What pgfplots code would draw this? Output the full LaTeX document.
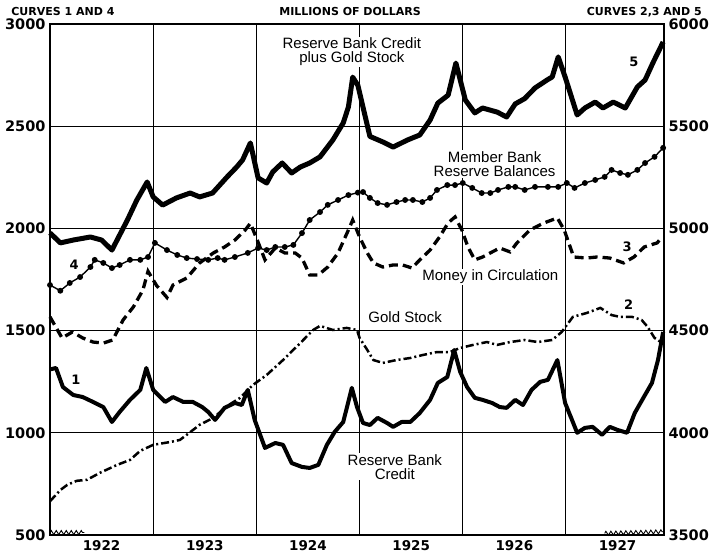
\documentclass[border=0pt]{standalone}
\usepackage{pgfplots}
\pgfplotsset{compat=1.18}
\usepackage{fontspec}
\setmainfont{Liberation Sans}
\newfontfamily\dv{DejaVu Sans}
\usetikzlibrary{decorations.pathmorphing}
\pgfplotsset{common/.style={
  scale only axis, width=614pt, height=511pt,
  xmin=0, xmax=71.4,
  major tick length=0pt, minor tick length=0pt,
  axis line style={line width=1.3pt},
  /pgf/number format/1000 sep={},
  /pgf/number format/assume math mode=true,
  yticklabel style={font=\dv\bfseries\fontsize{14.5}{14.5}\selectfont},
  clip=false,
}}
\begin{document}
\begin{tikzpicture}
\begin{axis}[common,
  ymin=500, ymax=3000, ytick={500,1000,...,3000},
  ymajorgrids, grid style={black, line width=1pt},
  xtick={6,18,30,42,54,66},
  xticklabels={1922,1923,1924,1925,1926,1927},
  xticklabel style={font=\dv\bfseries\fontsize{13.5}{13.5}\selectfont, yshift=-2pt},
  minor xtick={12,24,36,48,60}, xminorgrids,
  minor grid style={black, line width=1pt},
  yticklabel style={xshift=-1pt},
]
\coordinate (SW) at (rel axis cs:0,0);
\coordinate (NE) at (rel axis cs:1,1);
% Curve 1: Reserve Bank Credit
\addplot[black, line width=4pt, line join=round] coordinates {
(0,1310)(0.7,1317)(1.5,1224)(2.7,1185)(3.8,1175)(5.0,1151)(6.2,1126)(7.2,1053)
(8.1,1102)(9.3,1161)(10.5,1210)(11.2,1317)(12.0,1210)(13.4,1151)(14.3,1175)
(15.5,1151)(16.6,1151)(17.7,1126)(18.4,1102)(19.2,1063)(20.3,1122)(21.5,1146)
(22.3,1136)(23.0,1210)(23.8,1063)(25.0,926)(26.2,950)(27.1,941)(28.1,852)
(29.3,833)(30.2,828)(31.2,843)(32.2,941)(33.1,1004)(34.1,1053)(35.1,1220)
(35.7,1126)(36.4,1048)(37.2,1038)(38.1,1073)(39.2,1048)(39.9,1029)(40.9,1053)
(41.9,1053)(43.0,1097)(44.2,1161)(45.1,1244)(46.2,1273)(47.0,1405)(47.7,1298)
(48.5,1224)(49.4,1171)(50.3,1161)(51.4,1146)(52.3,1126)(53.1,1122)(54.1,1161)
(55.0,1136)(56.0,1210)(57.0,1249)(57.9,1259)(59.0,1356)(59.9,1146)(60.7,1063)
(61.3,1000)(62.2,1024)(63.1,1029)(64.2,990)(65.1,1029)(66.0,1014)(67.1,1000)
(68.0,1097)(69.0,1171)(70.0,1244)(70.7,1356)(71.3,1493)
};
% Curve 4: Member Bank Reserve Balances
\addplot[black, line width=1.4pt, mark=*, mark size=2.2pt] coordinates {
(0,1723)(1.2,1695)(2.3,1733)(3.5,1762)(4.7,1811)(5.2,1846)(6.2,1831)(7.2,1806)
(8.1,1821)(9.3,1846)(10.5,1846)(11.4,1860)(12.2,1929)(13.6,1894)(14.8,1870)
(15.9,1855)(17.1,1850)(18.4,1846)(19.5,1855)(20.3,1846)(21.5,1860)(23.0,1880)
(24.2,1904)(25.2,1894)(26.2,1909)(27.3,1909)(28.3,1919)(29.3,1977)(30.2,2041)
(31.4,2080)(32.3,2115)(33.5,2139)(34.7,2163)(35.8,2175)(36.4,2178)(37.2,2149)
(38.1,2124)(39.2,2115)(40.3,2129)(41.3,2139)(42.2,2139)(43.3,2129)(44.2,2149)
(45.0,2188)(46.2,2212)(47.1,2212)(48.0,2222)(49.1,2198)(50.2,2173)(51.2,2173)
(52.1,2188)(53.3,2203)(54.1,2203)(55.2,2188)(56.4,2203)(57.9,2203)(59.1,2203)
(60.1,2222)(61.0,2198)(62.2,2222)(63.4,2237)(64.5,2252)(65.3,2286)(66.3,2271)
(67.2,2262)(68.3,2286)(69.2,2320)(70.3,2350)(71.3,2394)
};
% headers
\node[anchor=west, font=\dv\bfseries\fontsize{11}{11}\selectfont] at (axis cs:-4.9,3059) {CURVES 1 AND 4};
\node[font=\dv\bfseries\fontsize{11}{11}\selectfont] at (axis cs:34.9,3059) {MILLIONS OF DOLLARS};
\node[anchor=east, font=\dv\bfseries\fontsize{11}{11}\selectfont] at (axis cs:76.2,3059) {CURVES 2,3 AND 5};
% annotations
\node[fill=white, inner sep=1pt, align=center, font=\fontsize{15}{14}\selectfont] at (axis cs:35.1,2863) {Reserve Bank Credit\\plus Gold Stock};
\node[fill=white, inner sep=1pt, align=center, font=\fontsize{15}{14}\selectfont] at (axis cs:51.7,2315) {Member Bank\\Reserve Balances};
\node[fill=white, inner sep=1pt, font=\fontsize{15}{14}\selectfont] at (axis cs:51.2,1762) {Money in Circulation};
\node[fill=white, inner sep=1pt, font=\fontsize{15}{14}\selectfont] at (axis cs:41.3,1567) {Gold Stock};
\node[fill=white, inner sep=1pt, align=center, font=\fontsize{15}{14}\selectfont] at (axis cs:40.1,833) {Reserve Bank\\Credit};
\node[font=\dv\bfseries\fontsize{13}{13}\selectfont] at (axis cs:3.0,1258) {1};
\node[font=\dv\bfseries\fontsize{13}{13}\selectfont] at (axis cs:67.3,1625) {2};
\node[font=\dv\bfseries\fontsize{13}{13}\selectfont] at (axis cs:67.1,1909) {3};
\node[font=\dv\bfseries\fontsize{13}{13}\selectfont] at (axis cs:2.8,1821) {4};
\node[font=\dv\bfseries\fontsize{13}{13}\selectfont] at (axis cs:67.9,2814) {5};
% axis breaks
\draw[line width=0.9pt, decorate, decoration={zigzag, amplitude=2pt, segment length=5pt}] (axis cs:0,512) -- (axis cs:4,512);
\draw[line width=0.9pt, decorate, decoration={zigzag, amplitude=2pt, segment length=5pt}] (axis cs:64.5,508) -- (axis cs:71.4,516);
\end{axis}
\begin{axis}[common,
  ymin=3500, ymax=6000, ytick={3500,4000,...,6000},
  axis x line=none, axis y line*=right,
  yticklabel style={xshift=1pt},
]
% Curve 5: Reserve Bank Credit plus Gold Stock
\addplot[black, line width=5pt, line join=round] coordinates {
(0,4978)(1.2,4929)(2.7,4943)(4.7,4958)(6.0,4943)(7.2,4894)(9.0,5041)(10.1,5139)
(11.3,5227)(12.0,5154)(13.1,5114)(14.7,5149)(16.3,5173)(17.4,5154)(18.9,5173)
(20.6,5252)(21.7,5300)(22.4,5335)(23.3,5418)(24.2,5247)(25.2,5222)(25.9,5276)
(27.0,5320)(28.1,5271)(29.1,5300)(30.2,5320)(31.4,5350)(32.9,5433)(34.1,5516)
(34.7,5594)(35.2,5740)(35.8,5700)(37.2,5450)(38.7,5423)(39.9,5398)(41.6,5433)
(43.0,5457)(44.2,5530)(45.1,5613)(46.3,5652)(47.2,5809)(48.3,5628)(49.4,5565)
(50.3,5589)(52.0,5569)(53.1,5545)(54.1,5609)(55.2,5635)(56.4,5687)(57.8,5726)
(58.4,5741)(59.1,5839)(59.9,5741)(61.3,5555)(62.2,5589)(63.4,5618)(64.3,5589)
(65.5,5618)(66.9,5589)(68.3,5692)(69.2,5726)(70.1,5809)(71.3,5912)
};
% Curve 3: Money in Circulation
\addplot[black, line width=3.3pt, dash pattern=on 9pt off 5pt] coordinates {
(0,4567)(1.4,4464)(2.6,4493)(3.8,4464)(5.0,4444)(6.2,4439)(7.3,4454)(8.5,4552)
(9.7,4616)(10.8,4698)(11.4,4790)(12.4,4720)(13.6,4662)(14.3,4723)(15.9,4757)
(17.4,4831)(19.0,4880)(20.3,4909)(21.5,4943)(22.7,4992)(23.3,5025)(24.1,4943)
(25.0,4846)(26.2,4904)(27.3,4880)(28.5,4880)(29.3,4855)(30.2,4772)(31.2,4772)
(32.3,4811)(33.5,4880)(34.7,4992)(35.2,5041)(36.0,4958)(36.9,4880)(37.6,4831)
(38.7,4811)(39.9,4821)(41.0,4821)(42.1,4806)(43.0,4846)(44.2,4894)(45.3,4958)
(46.3,5027)(47.1,5056)(47.9,4992)(48.6,4909)(49.4,4846)(50.3,4860)(51.2,4880)
(52.3,4904)(53.5,4885)(54.3,4929)(55.8,4992)(57.4,5026)(59.0,5051)(59.8,4992)
(60.9,4860)(62.4,4855)(63.6,4860)(65.1,4855)(66.7,4831)(67.9,4860)(69.1,4909)
(70.6,4929)(71.2,4958)
};
% Curve 2: Gold Stock
\addplot[black, line width=2.5pt, dash pattern=on 8pt off 3pt on 2pt off 3pt] coordinates {
(0,3665)(1.2,3720)(2.0,3745)(3.1,3765)(4.3,3770)(5.8,3804)(7.8,3843)(9.3,3867)
(10.5,3912)(12.0,3941)(14.0,3955)(15.1,3965)(15.9,3990)(17.4,4039)(19.0,4073)
(20.6,4131)(22.1,4171)(23.6,4234)(25.2,4283)(27.1,4356)(29.1,4439)(30.6,4503)
(31.4,4523)(32.9,4503)(34.5,4513)(35.7,4503)(36.0,4464)(36.9,4405)(37.6,4356)
(38.7,4342)(40.3,4356)(41.9,4366)(43.4,4381)(45.0,4395)(46.5,4395)(47.7,4415)
(49.2,4430)(50.8,4444)(52.0,4430)(53.5,4444)(55.2,4454)(56.7,4444)(58.4,4454)
(59.5,4493)(60.8,4567)(62.4,4586)(64.0,4611)(65.3,4576)(66.3,4567)(67.7,4567)
(68.8,4552)(69.5,4518)(70.3,4464)(71.2,4439)
};
\end{axis}
\pgfresetboundingbox
\path ([xshift=-50pt,yshift=-23pt]SW) rectangle ([xshift=53pt,yshift=24pt]NE);
\end{tikzpicture}
\end{document}
